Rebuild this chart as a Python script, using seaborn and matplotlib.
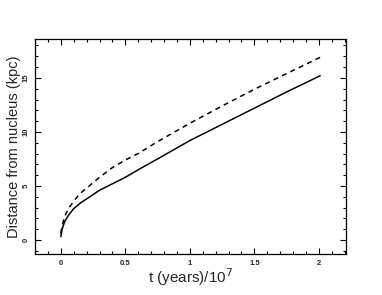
import seaborn as sns
import pandas as pd
import matplotlib.pyplot as plt
from matplotlib.ticker import MultipleLocator

# time in units of 1e7 years
t_vals = [0.0, 0.01, 0.03, 0.06, 0.1, 0.15, 0.2, 0.3, 0.4, 0.5, 0.6, 0.75, 1.0, 1.25, 1.5, 1.75, 2.01]
solid_dist = [0.3, 1.0, 1.7, 2.3, 2.9, 3.4, 3.8, 4.6, 5.2, 5.8, 6.5, 7.5, 9.2, 10.7, 12.2, 13.7, 15.2]
dashed_dist = [0.6, 1.3, 2.2, 2.9, 3.6, 4.3, 4.8, 5.8, 6.7, 7.4, 8.0, 9.1, 10.8, 12.4, 13.95, 15.4, 16.9]

df = pd.DataFrame({
    "t": t_vals * 2,
    "dist": solid_dist + dashed_dist,
    "model": ["solid"] * len(t_vals) + ["dashed"] * len(t_vals),
})

sns.set_style("ticks")
plt.rcParams['font.family'] = ['Liberation Sans', 'DejaVu Sans']

fig = plt.figure(figsize=(3.82, 2.95), dpi=100)
ax = fig.add_axes([35 / 382, 1 - 254 / 295, (346 - 35) / 382, (254 - 39) / 295])

sns.lineplot(data=df, x="t", y="dist", style="model", dashes={"solid": "", "dashed": (3.3, 2.8)},
             color="black", linewidth=1.1, legend=False, ax=ax)

ax.set_xlim(-0.2, 2.21)
ax.set_ylim(-1.3, 18.6)
ax.xaxis.set_major_locator(MultipleLocator(0.5))
ax.xaxis.set_minor_locator(MultipleLocator(0.1))
ax.yaxis.set_major_locator(MultipleLocator(5))
ax.yaxis.set_minor_locator(MultipleLocator(1))
ax.tick_params(which="both", direction="in", top=True, right=True, width=0.8, color="black")
ax.tick_params(which="major", length=4, labelsize=5.5, pad=4)
ax.tick_params(which="minor", length=2)
ax.set_xticks([0, 0.5, 1, 1.5, 2])
ax.set_xticklabels(["0", "0.5", "1", "1.5", "2"], fontweight="bold")
for lab in ax.get_yticklabels():
    lab.set_rotation(90)
    lab.set_va("center")
    lab.set_fontweight("bold")
for sp in ax.spines.values():
    sp.set_linewidth(0.9)
    sp.set_color("black")

ax.set_xlabel("t (years)/10$^7$", fontsize=11, labelpad=0)
ax.set_ylabel("Distance from nucleus (kpc)", fontsize=10.5, labelpad=1)

fig.savefig("out.png", dpi=100)
